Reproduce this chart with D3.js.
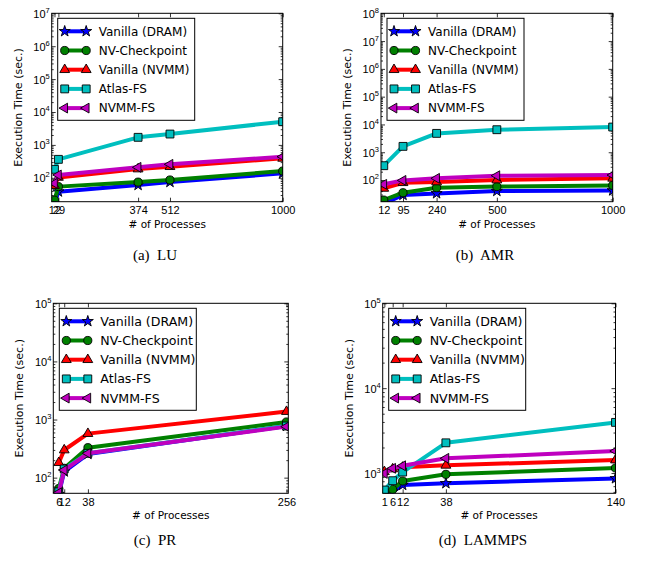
<!DOCTYPE html>
<html>
<head>
<meta charset="utf-8">
<script src="https://cdnjs.cloudflare.com/ajax/libs/d3/7.8.5/d3.min.js"></script>
<style>
body { margin: 0; background: #fff; }
svg { display: block; font-family: "DejaVu Sans", sans-serif; }
</style>
</head>
<body>
<div id="chart"></div>
<script>
var seriesNames = ['Vanilla (DRAM)', 'NV-Checkpoint', 'Vanilla (NVMM)', 'Atlas-FS', 'NVMM-FS'];
var seriesColors = ['#0000ff', '#008000', '#ff0000', '#00bfbf', '#bf00bf'];
var seriesMarkers = ['star', 'circle', 'triangle', 'square', 'left'];

// (a) LU
var luProcs = [12, 29, 374, 512, 1000];
var luTimes = [
	[16, 38, 60, 74, 137],
	[21, 54, 74, 86, 161],
	[58, 103, 185, 218, 390],
	[181, 364, 1700, 2140, 5080],
	[68, 122, 208, 257, 438]
];
// (b) AMR
var amrProcs = [12, 95, 240, 500, 1000];
var amrTimes = [
	[14, 29, 33, 40, 42],
	[19, 35, 53, 58, 64],
	[50, 80, 85, 100, 115],
	[328, 1625, 4770, 6470, 8070],
	[70, 97, 115, 143, 151]
];
// (c) PR
var prProcs = [6, 12, 38, 256];
var prTimes = [
	[52, 127, 255, 774],
	[65, 145, 328, 908],
	[181, 299, 572, 1370],
	[57, 141, 262, 774],
	[55, 135, 262, 755]
];
// (d) LAMMPS
var lmpProcs = [1, 6, 12, 38, 140];
var lmpTimes = [
	[540, 604, 722, 756, 865],
	[570, 640, 805, 965, 1146],
	[1036, 1114, 1166, 1232, 1422],
	[631, 812, 1027, 2270, 3950],
	[990, 1136, 1218, 1490, 1817]
];

var captions = ['(a)  LU', '(b)  AMR', '(c)  PR', '(d)  LAMMPS'];
var yExponents = [[2, 3, 4, 5, 6, 7], [2, 3, 4, 5, 6, 7, 8], [2, 3, 4, 5], [3, 4, 5]];

var panels = [
	{procs: luProcs, times: luTimes, left: 51.7, right: 282.7, top: 13.3, bottom: 201.7, xMax: 1000, yMin: 18.8, yMax: 1e7, capX: 155, capY: 260, legFont: 12},
	{procs: amrProcs, times: amrTimes, left: 381, right: 612.7, top: 13.3, bottom: 201.7, xMax: 1000, yMin: 16.6, yMax: 1e8, capX: 485, capY: 260, legFont: 12},
	{procs: prProcs, times: prTimes, left: 53.3, right: 288.3, top: 303.3, bottom: 493.3, xMax: 258, yMin: 53.8, yMax: 1e5, capX: 155, capY: 545, legFont: 12.6},
	{procs: lmpProcs, times: lmpTimes, left: 382.7, right: 615.5, top: 303.3, bottom: 493.3, xMax: 140, yMin: 577, yMax: 1e5, capX: 483, capY: 545, legFont: 12.6}
];

var svg = d3.select('#chart')
	.append('svg')
	.attr('width', 647)
	.attr('height', 561);

svg.append('rect').attr('width', 647).attr('height', 561).attr('fill', '#fff');

function markerPath(type) {
	if (type == 'star') return d3.symbol(d3.symbolStar, 38)();
	if (type == 'circle') return d3.symbol(d3.symbolCircle, 52)();
	if (type == 'square') return d3.symbol(d3.symbolSquare, 62)();
	return d3.symbol(d3.symbolTriangle, 42)();
}

function drawMarker(g, type, cx, cy, color) {
	g.append('path')
		.attr('d', markerPath(type))
		.attr('transform', 'translate(' + cx + ',' + cy + ')' + (type == 'left' ? ' rotate(-90)' : ''))
		.attr('fill', color)
		.attr('stroke', '#000')
		.attr('stroke-width', 0.9);
}

panels.forEach(function(p, pi) {
	var x = d3.scaleLinear().domain([0, p.xMax]).range([p.left, p.right]);
	var y = d3.scaleLog().domain([p.yMin, p.yMax]).range([p.bottom, p.top]);
	var g = svg.append('g');

	var clipId = 'clip' + pi;
	g.append('clipPath').attr('id', clipId)
		.append('rect')
		.attr('x', p.left).attr('y', p.top)
		.attr('width', p.right - p.left).attr('height', p.bottom - p.top);

	// minor log ticks
	var majors = yExponents[pi].map(function(e) { return Math.pow(10, e); });
	var minors = [];
	for (var e = 1; e <= yExponents[pi][yExponents[pi].length - 1]; e++) {
		for (var m = 2; m < 10; m++) {
			var v = m * Math.pow(10, e - 1);
			if (v > p.yMin && v < p.yMax) minors.push(v);
		}
	}

	var yLeft = g.append('g').attr('transform', 'translate(' + p.left + ',0)')
		.call(d3.axisLeft(y).tickValues(majors).tickSize(-4).tickPadding(3).tickFormat(''));
	yLeft.selectAll('.tick text').each(function(d) {
		var t = d3.select(this);
		t.attr('font-size', 11).attr('fill', '#000').attr('dy', '0.36em').attr('x', -2);
		t.append('tspan').text('10');
		t.append('tspan').attr('dy', -5).attr('font-size', 7.5).text(Math.round(Math.log10(d)));
	});
	g.append('g').attr('transform', 'translate(' + p.left + ',0)')
		.call(d3.axisLeft(y).tickValues(minors).tickSize(-2).tickFormat(''));
	g.append('g').attr('transform', 'translate(' + p.right + ',0)')
		.call(d3.axisRight(y).tickValues(majors).tickSize(-4).tickFormat(''));
	g.append('g').attr('transform', 'translate(' + p.right + ',0)')
		.call(d3.axisRight(y).tickValues(minors).tickSize(-2).tickFormat(''));

	var xBottom = g.append('g').attr('transform', 'translate(0,' + p.bottom + ')')
		.call(d3.axisBottom(x).tickValues(p.procs).tickSize(-4).tickPadding(3).tickFormat(d3.format('d')));
	xBottom.selectAll('.tick text').attr('font-size', 11).attr('fill', '#000').attr('y', 5);
	g.append('g').attr('transform', 'translate(0,' + p.top + ')')
		.call(d3.axisTop(x).tickValues(p.procs).tickSize(-4).tickFormat(''));

	g.selectAll('.domain').remove();
	g.selectAll('.tick line').attr('stroke', '#000').attr('stroke-width', 0.8);

	// series
	var plot = g.append('g').attr('clip-path', 'url(#' + clipId + ')');
	var line = d3.line()
		.x(function(d, i) { return x(p.procs[i]); })
		.y(function(d) { return y(d); });
	p.times.forEach(function(vals, si) {
		plot.append('path')
			.attr('d', line(vals))
			.attr('fill', 'none')
			.attr('stroke', seriesColors[si])
			.attr('stroke-width', 4)
			.attr('stroke-linejoin', 'round');
		vals.forEach(function(v, i) {
			drawMarker(plot, seriesMarkers[si], x(p.procs[i]), y(v), seriesColors[si]);
		});
	});

	// frame
	g.append('rect')
		.attr('x', p.left).attr('y', p.top)
		.attr('width', p.right - p.left).attr('height', p.bottom - p.top)
		.attr('fill', 'none').attr('stroke', '#000').attr('stroke-width', 1);

	// legend
	var lx = p.left + 6, ly = p.top + 5;
	var leg = g.append('g');
	leg.append('rect')
		.attr('x', lx).attr('y', ly)
		.attr('width', 137).attr('height', 102)
		.attr('fill', '#fff').attr('stroke', '#000').attr('stroke-width', 1);
	seriesNames.forEach(function(name, si) {
		var ry = ly + 13 + si * 19.2;
		leg.append('line')
			.attr('x1', lx + 7).attr('x2', lx + 28.5)
			.attr('y1', ry).attr('y2', ry)
			.attr('stroke', seriesColors[si]).attr('stroke-width', 4);
		drawMarker(leg, seriesMarkers[si], lx + 7, ry, seriesColors[si]);
		drawMarker(leg, seriesMarkers[si], lx + 28.5, ry, seriesColors[si]);
		leg.append('text')
			.attr('x', lx + 41).attr('y', ry)
			.attr('dy', '0.36em')
			.attr('font-size', p.legFont)
			.text(name);
	});

	// axis titles
	g.append('text')
		.attr('x', (p.left + p.right) / 2)
		.attr('y', p.bottom + 26)
		.attr('text-anchor', 'middle')
		.attr('font-size', 10.5)
		.text('# of Processes');
	g.append('text')
		.attr('transform', 'translate(' + (p.left - 30) + ',' + ((p.top + p.bottom) / 2) + ') rotate(-90)')
		.attr('text-anchor', 'middle')
		.attr('font-size', 11)
		.text('Execution Time (sec.)');

	// caption
	svg.append('text')
		.attr('x', p.capX).attr('y', p.capY)
		.attr('text-anchor', 'middle')
		.attr('font-family', '"Liberation Serif", serif')
		.attr('font-size', 15)
		.attr('xml:space', 'preserve')
		.style('white-space', 'pre')
		.text(captions[pi]);
});
</script>
</body>
</html>
